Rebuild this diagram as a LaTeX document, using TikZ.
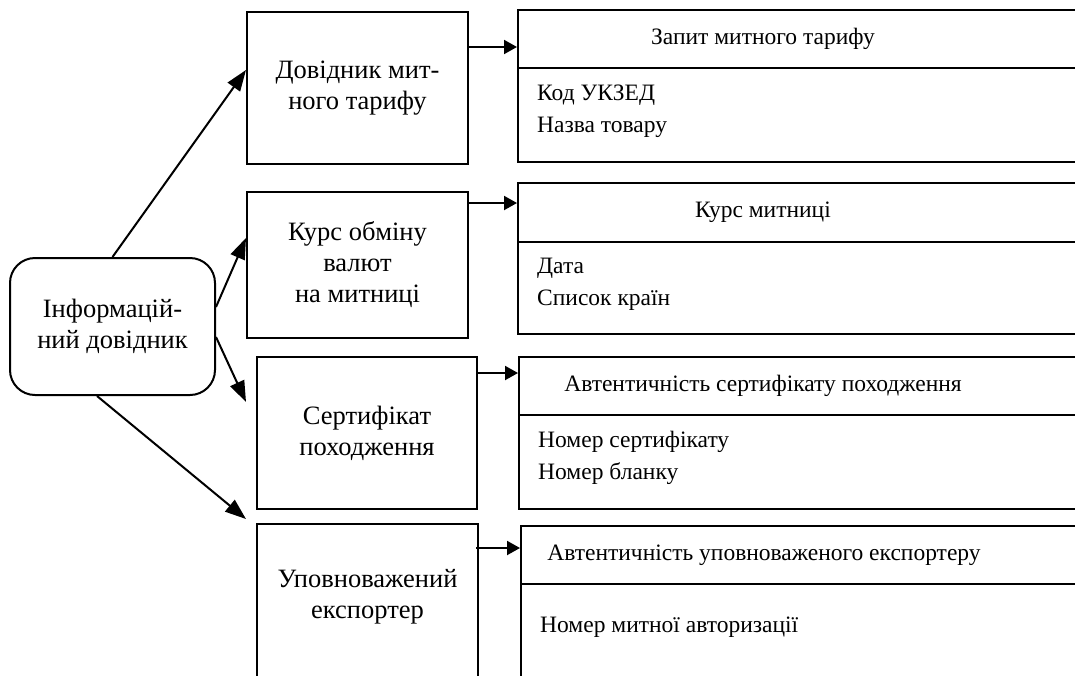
\documentclass[tikz,border=0pt]{standalone}
\usepackage{fontspec}
\setmainfont{Liberation Serif}
\usetikzlibrary{arrows.meta,positioning}

\tikzset{
  blk/.style={draw,line width=2pt,inner sep=0pt,align=center},
  big/.style={font=\fontsize{26.5}{31}\selectfont},
  txt/.style={inner sep=0pt,align=left,anchor=west},
  ttl/.style={inner sep=0pt,align=center},
  bigtip/.style={line width=2pt,-{Triangle[length=21pt,width=15pt]}},
  smalltip/.style={line width=2pt,-{Triangle[length=13pt,width=14pt]}}
}

\begin{document}
\begin{tikzpicture}[x=1pt,y=-1pt,font=\fontsize{23.5}{32}\selectfont]
          \useasboundingbox (0,0) rectangle (1075,675);
          \clip (0,0) rectangle (1075,675);
          % main node
          \node[blk,big,rounded corners=25pt,minimum width=205pt,minimum height=137pt]
            (main) at (112.5,326.5) {Інформацій-\\ний довідник};
          % left column
          \node[blk,big,minimum width=221pt,minimum height=152pt] (tariff) at (357.5,88) {Довідник мит-\\ного тарифу};
          \node[blk,big,minimum width=221pt,minimum height=146pt] (rate) at (357.5,265) {Курс обміну\\валют\\на митниці};
          \node[blk,big,minimum width=220pt,minimum height=152pt] (cert) at (367,433) {Сертифікат\\походження};
          \node[blk,minimum width=221pt,minimum height=196pt] (exp) at (367.5,622) {};
          \node[ttl,big] (exptxt) at (367.5,597) {Уповноважений\\експортер};
          % right column
          \node[blk,minimum width=592pt,minimum height=58pt] (tariffhd) at (814,39) {};
          \node[blk,minimum width=592pt,minimum height=94pt] (tariffbd) at (814,115) {};
          \node[blk,minimum width=592pt,minimum height=59pt] (ratehd) at (814,212.5) {};
          \node[blk,minimum width=592pt,minimum height=92pt] (ratebd) at (814,288) {};
          \node[blk,minimum width=592pt,minimum height=58pt] (certhd) at (815,386) {};
          \node[blk,minimum width=592pt,minimum height=94pt] (certbd) at (815,462) {};
          \node[blk,minimum width=592pt,minimum height=58pt] (exphd) at (817,555) {};
          \node[blk,minimum width=592pt,minimum height=136pt] (expbd) at (817,652) {};
          % texts of the right column
          \node[ttl] (tariffttl) at (763,39) {Запит митного тарифу};
          \node[ttl] (ratettl) at (763,212) {Курс митниці};
          \node[ttl] (certttl) at (763,386) {Автентичність сертифікату походження};
          \node[ttl] (expttl) at (764,555) {Автентичність уповноваженого експортеру};
          \node[txt] (tariffitm) at (537,111) {Код УКЗЕД\\Назва товару};
          \node[txt] (rateitm) at (537,284) {Дата\\Список країн};
          \node[txt] (certitm) at (538,458) {Номер сертифікату\\Номер бланку};
          \node[txt] (expitm) at (540,627) {Номер митної авторизації};
          % arrows from the main node
          \draw[bigtip] (main.north) -- ([yshift=18pt]tariff.west);
          \draw[bigtip] ([yshift=19.5pt]main.east) -- ([yshift=27pt]rate.west);
          \draw[bigtip] ([yshift=-10.5pt]main.east) -- ([xshift=-10pt,yshift=31pt]cert.west);
          \draw[bigtip] ([xshift=-15.5pt]main.south) -- ([xshift=-10pt,yshift=4pt]exp.north west);
          % arrows to the right column
          \path ([yshift=-8pt]tariffhd.west) coordinate (t1)
                ([yshift=9.5pt]ratehd.west) coordinate (t2)
                ([yshift=13pt]certhd.west) coordinate (t3)
                ([yshift=7pt]exphd.west) coordinate (t4);
          \draw[smalltip] (tariff.east |- t1) -- (t1);
          \draw[smalltip] (rate.east |- t2) -- (t2);
          \draw[smalltip] ([xshift=-2pt]cert.east |- t3) -- (t3);
          \draw[smalltip] ([xshift=-3pt]exp.east |- t4) -- (t4);
        \end{tikzpicture}
\end{document}
